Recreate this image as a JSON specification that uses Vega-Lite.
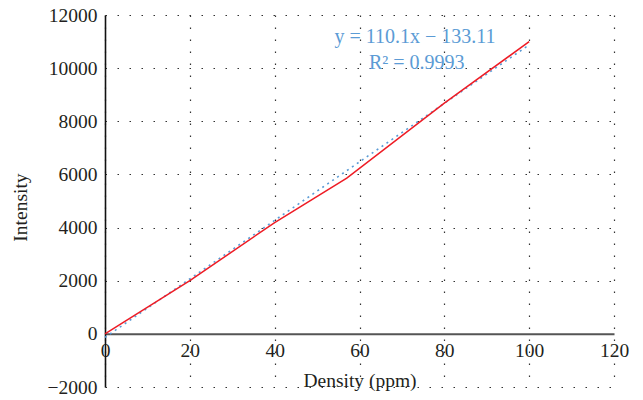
{
  "$schema": "https://vega.github.io/schema/vega-lite/v6.json",
  "width": 509,
  "height": 372,
  "autosize": "none",
  "padding": {"left": 105, "top": 15, "right": 29, "bottom": 13},
  "background": "white",
  "config": {
    "view": {"stroke": null},
    "font": "Liberation Serif",
    "axis": {
      "labelFont": "Liberation Serif",
      "titleFont": "Liberation Serif",
      "labelColor": "#231f20",
      "titleColor": "#231f20",
      "labelFontSize": 19.5,
      "titleFontSize": 19.5,
      "titleFontWeight": "normal",
      "ticks": false,
      "grid": true,
      "gridColor": "#333333",
      "gridDash": [1.5, 10.5],
      "gridWidth": 1.2
    }
  },
  "datasets": {
    "measured": [
      {"density": 0, "intensity": 0},
      {"density": 20, "intensity": 2000},
      {"density": 40, "intensity": 4190},
      {"density": 57, "intensity": 5860},
      {"density": 80, "intensity": 8680},
      {"density": 100, "intensity": 11000}
    ],
    "trend": [
      {"density": 0, "intensity": -133.11},
      {"density": 100, "intensity": 10876.89}
    ],
    "labels": [
      {"density": 73.1, "intensity": 11178, "text": "y = 110.1x − 133.11"},
      {"density": 73.5, "intensity": 10199, "text": "R² = 0.9993"}
    ]
  },
  "layer": [
    {
      "data": {"name": "trend"},
      "mark": {"type": "line", "color": "#5b9bd5", "strokeDash": [2, 4], "strokeWidth": 1.6},
      "encoding": {
        "x": {
          "field": "density", "type": "quantitative",
          "scale": {"domain": [0, 120], "nice": false},
          "axis": {
            "title": "Density (ppm)",
            "values": [0, 20, 40, 60, 80, 100, 120],
            "offset": -53.14,
            "domainColor": "#555555",
            "domainWidth": 2,
            "labelPadding": 8,
            "titlePadding": 11,
            "labelFlush": false
          }
        },
        "y": {
          "field": "intensity", "type": "quantitative",
          "scale": {"domain": [-2000, 12000], "nice": false, "zero": false},
          "axis": {
            "title": "Intensity",
            "values": [-2000, 0, 2000, 4000, 6000, 8000, 10000, 12000],
            "format": "d",
            "domainColor": "#111111",
            "domainWidth": 1.6,
            "labelPadding": 8,
            "titlePadding": 17,
            "titleY": 192
          }
        }
      }
    },
    {
      "data": {"name": "measured"},
      "mark": {"type": "line", "color": "#ee1c25", "strokeWidth": 1.5},
      "encoding": {
        "x": {"field": "density", "type": "quantitative"},
        "y": {"field": "intensity", "type": "quantitative"}
      }
    },
    {
      "data": {"name": "labels"},
      "mark": {"type": "text", "color": "#5b9bd5", "fontSize": 20, "font": "Liberation Serif", "align": "center", "baseline": "middle"},
      "encoding": {
        "x": {"field": "density", "type": "quantitative"},
        "y": {"field": "intensity", "type": "quantitative"},
        "text": {"field": "text"}
      }
    }
  ]
}
